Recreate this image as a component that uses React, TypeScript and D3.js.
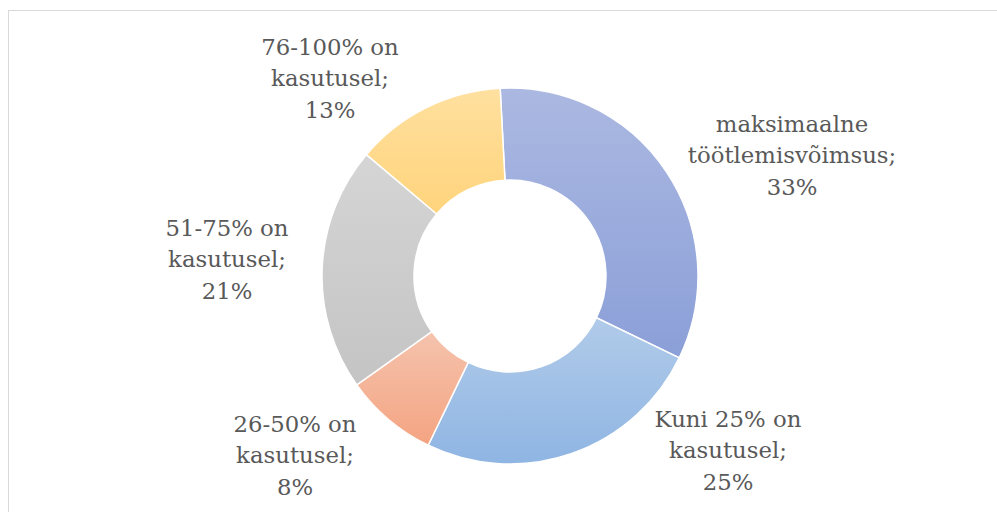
import React, { useEffect, useRef } from 'react'
import * as d3 from 'd3'

// slices in clockwise order, starting near 12 o'clock
const categories = [
  'maksimaalne töötlemisvõimsus',
  'Kuni 25% on kasutusel',
  '26-50% on kasutusel',
  '51-75% on kasutusel',
  '76-100% on kasutusel',
]
const shares = [33, 25, 8, 21, 13]

// label text lines (as Excel wraps them)
const labelLines = [
  ['maksimaalne', 'töötlemisvõimsus;', '33%'],
  ['Kuni 25% on', 'kasutusel;', '25%'],
  ['26-50% on', 'kasutusel;', '8%'],
  ['51-75% on', 'kasutusel;', '21%'],
  ['76-100% on', 'kasutusel;', '13%'],
]

// top / bottom gradient colours per slice
const gradTop = ['#abb8e1', '#b1cbe9', '#f5c3ad', '#d5d5d5', '#ffe09f']
const gradBottom = ['#8b9fd8', '#8fb5e3', '#f4a482', '#c4c4c4', '#ffd47c']

// label centre (middle line) positions, placed like Excel's best fit
const labelPos = [
  [792, 155],
  [728, 450],
  [295, 455],
  [227, 259],
  [330, 78],
]

export default function App() {
  const svgRef = useRef<SVGSVGElement>(null)

  useEffect(() => {
    const width = 997
    const height = 512
    const cx = 510
    const cy = 276
    const outerR = 188
    const innerR = 96

    const svg = d3.select(svgRef.current)
    svg.selectAll('*').remove()
    svg.attr('width', width).attr('height', height)

    // chart border
    svg.append('rect')
      .attr('x', 8.5).attr('y', 10.5)
      .attr('width', 1200).attr('height', 800)
      .attr('fill', 'white')
      .attr('stroke', '#d9d9d9')
      .attr('stroke-width', 1)

    const defs = svg.append('defs')
    shares.forEach((_, i) => {
      const g = defs.append('linearGradient')
        .attr('id', 'grad' + i)
        .attr('x1', 0).attr('y1', 0).attr('x2', 0).attr('y2', 1)
      g.append('stop').attr('offset', '0%').attr('stop-color', gradTop[i])
      g.append('stop').attr('offset', '100%').attr('stop-color', gradBottom[i])
    })

    const rot = -3 * Math.PI / 180
    const pie = d3.pie<number>()
      .sort(null)
      .startAngle(rot)
      .endAngle(rot + 2 * Math.PI)
    const arc = d3.arc<d3.PieArcDatum<number>>()
      .innerRadius(innerR)
      .outerRadius(outerR)

    const g = svg.append('g').attr('transform', `translate(${cx},${cy})`)
    g.selectAll('path')
      .data(pie(shares))
      .enter()
      .append('path')
      .attr('d', arc)
      .attr('fill', (d, i) => `url(#grad${i})`)
      .attr('stroke', 'white')
      .attr('stroke-width', 1.5)
      .append('title')
      .text((d, i) => categories[i])

    const labels = svg.append('g')
      .attr('font-family', '"DejaVu Serif", serif')
      .attr('font-size', 22.8)
      .attr('fill', '#595959')
      .attr('text-anchor', 'middle')

    labelLines.forEach((lines, i) => {
      const t = labels.append('text')
        .attr('x', labelPos[i][0])
        .attr('y', labelPos[i][1])
      lines.forEach((line, j) => {
        t.append('tspan')
          .attr('x', labelPos[i][0])
          .attr('y', labelPos[i][1] + (j - 1) * 31.5 + 8)
          .text(line)
      })
    })
  }, [])

  return (
    <div style={{ position: 'absolute', left: 0, top: 0 }}>
      <svg ref={svgRef} width={997} height={512}></svg>
    </div>
  )
}
